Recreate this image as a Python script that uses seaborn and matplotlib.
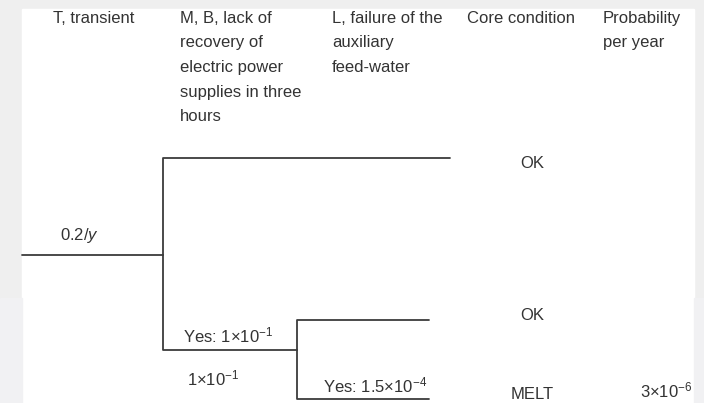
import matplotlib
matplotlib.use("Agg")
import matplotlib.pyplot as plt
import seaborn as sns
import pandas as pd
from matplotlib.patches import Rectangle

# event tree content
headers = [
    "T, transient",
    "M, B, lack of\nrecovery of\nelectric power\nsupplies in three\nhours",
    "L, failure of the\nauxiliary\nfeed-water",
    "Core condition",
    "Probability\nper year",
]
initiator_freq = "0.2/$y$"
power_labels = ["Yes: 1\u00d710$^{-1}$", "1\u00d710$^{-1}$"]
feedwater_labels = ["Yes: 1.5\u00d710$^{-4}$"]
outcomes = ["OK", "OK", "MELT"]
probabilities = ["", "", "3\u00d710$^{-6}$"]

# layout (pixels, y downwards)
W, H = 704, 403
header_x = [53, 180, 332, 467, 603]
header_base, line_step = 23, 24.5
start_x, node1_x, node2_x = 22, 163, 297
end_x = [450, 429, 429]
init_y, top_y, mid_y = 255, 158, 350
sub_y = [320, 399]
outcome_x, prob_x = 532, 640
outcome_base = [168, 320, 399]

sns.set_theme(style="white")
plt.rcParams["font.family"] = ["Liberation Sans", "DejaVu Sans"]
plt.rcParams["mathtext.fontset"] = "custom"
plt.rcParams["mathtext.rm"] = "Liberation Sans"
plt.rcParams["mathtext.it"] = "Liberation Sans:italic"

fig = plt.figure(figsize=(W / 100, H / 100), dpi=100, facecolor="#efefef")
ax = fig.add_axes([0, 0, 1, 1])
ax.set_facecolor("none")

# page background
ax.add_patch(Rectangle((22, 9), 672, H - 9, color="white", zorder=0))
ax.add_patch(Rectangle((0, 298), 22, H - 298, color="#f1f1f3", zorder=0))
ax.add_patch(Rectangle((694, 298), 10, H - 298, color="#f1f1f3", zorder=0))

# branches as polylines
paths = [
    [(start_x, init_y), (node1_x, init_y)],
    [(node1_x, init_y), (node1_x, top_y), (end_x[0], top_y)],
    [(node1_x, init_y), (node1_x, mid_y), (node2_x, mid_y)],
    [(node2_x, mid_y), (node2_x, sub_y[0]), (end_x[1], sub_y[0])],
    [(node2_x, mid_y), (node2_x, sub_y[1]), (end_x[2], sub_y[1])],
]
rows = []
for i, p in enumerate(paths):
    for j, (x, y) in enumerate(p):
        rows.append({"seg": i, "order": j, "x": x, "y": y})
tree = pd.DataFrame(rows)
sns.lineplot(data=tree, x="x", y="y", units="seg", estimator=None, sort=False,
             color="#3c3c3c", lw=1.3, ax=ax, legend=False)

tc = "#333333"
fs = 12
for hx, txt in zip(header_x, headers):
    for k, line in enumerate(txt.split("\n")):
        ax.text(hx, header_base + k * line_step, line, fontsize=fs, color=tc,
                ha="left", va="baseline")

ax.text(60, 240, initiator_freq, fontsize=fs, color=tc, va="baseline")
ax.text(183, 342, power_labels[0], fontsize=fs, color=tc, va="baseline")
ax.text(187, 385, power_labels[1], fontsize=fs, color=tc, va="baseline")
ax.text(323, 392, feedwater_labels[0], fontsize=fs, color=tc, va="baseline")

for yb, oc, pr in zip(outcome_base, outcomes, probabilities):
    ax.text(outcome_x, yb, oc, fontsize=fs, color=tc, ha="center", va="baseline")
    if pr:
        ax.text(prob_x, yb - 2, pr, fontsize=fs, color=tc, ha="left", va="baseline")

ax.set_xlim(0, W)
ax.set_ylim(H, 0)
ax.axis("off")
fig.savefig("out.png", dpi=100, facecolor=fig.get_facecolor())
